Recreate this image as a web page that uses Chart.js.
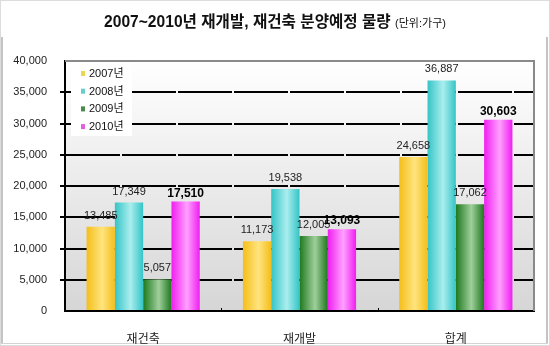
<!DOCTYPE html>
<html>
<head>
<meta charset="utf-8">
<script src="https://cdn.jsdelivr.net/npm/chart.js@4"></script>
<style>
  body { margin: 0; background: #fff; }
  #wrap { position: relative; width: 550px; height: 346px; }
  #title {
    position: absolute; left: 0; top: 9px; width: 550px; text-align: center;
    font-family: "Liberation Sans", "Noto Sans CJK KR", sans-serif;
    font-size: 15.6px; font-weight: bold; color: #111; white-space: nowrap;
  }
  #title span { font-size: 11px; font-weight: normal; }
</style>
</head>
<body>
<div id="wrap">
  <canvas id="myChart" width="550" height="346"></canvas>
  <div id="title">2007~2010년 재개발, 재건축 분양예정 물량 <span>(단위:가구)</span></div>
</div>
<script>
// data
let categories = ['재건축', '재개발', '합계']
let years = ['2007년', '2008년', '2009년', '2010년']
let values2007 = [13485, 11173, 24658]
let values2008 = [17349, 19538, 36887]
let values2009 = [5057, 12005, 17062]
let values2010 = [17510, 13093, 30603]
let yTicks = [0, 5000, 10000, 15000, 20000, 25000, 30000, 35000, 40000]

// [edge, center] colours for each year
let barColors = [
    ['#f5be1a', '#ffe47e'],
    ['#35c4c6', '#aaeeee'],
    ['#1d781d', '#a0cf9c'],
    ['#f01ef0', '#ffa0ff']
]
let legendColors = ['#e8d850', '#66cccc', '#4a8a4a', '#e060e0']
let catPct = 0.724
let font = '"Liberation Sans", "Noto Sans CJK KR", sans-serif'

function barGradient(context) {
    let chart = context.chart
    let xs = chart.scales.x
    if (!xs || !chart.chartArea) return barColors[context.datasetIndex][0]
    let catW = (chart.chartArea.right - chart.chartArea.left) / categories.length * catPct
    let barW = catW / years.length
    let center = xs.getPixelForValue(context.dataIndex)
    let left = center - catW / 2 + context.datasetIndex * barW
    let g = chart.ctx.createLinearGradient(left, 0, left + barW, 0)
    let c = barColors[context.datasetIndex]
    g.addColorStop(0, c[0])
    g.addColorStop(0.55, c[1])
    g.addColorStop(1, c[0])
    return g
}

let framePlugin = {
    id: 'frame',
    beforeDraw(chart) {
        let ctx = chart.ctx
        let a = chart.chartArea
        ctx.save()
        // outer borders
        ctx.strokeStyle = '#dcdcdc'
        ctx.lineWidth = 1
        ctx.strokeRect(0.5, 0.5, 549, 345)
        ctx.fillStyle = '#c4c4c4'
        ctx.fillRect(1, 37, 2, 306)
        ctx.fillRect(546, 37, 2, 306)
        ctx.fillStyle = '#d4d4d4'
        ctx.fillRect(1, 343, 547, 1)
        // plot background
        let g = ctx.createLinearGradient(0, a.top, 0, a.bottom)
        g.addColorStop(0, '#ffffff')
        g.addColorStop(1, '#d6d6d6')
        ctx.fillStyle = g
        ctx.fillRect(a.left, a.top, a.right - a.left, a.bottom - a.top)
        ctx.restore()
    },
    afterDraw(chart) {
        let ctx = chart.ctx
        let a = chart.chartArea
        ctx.save()
        // top / right gray border
        ctx.strokeStyle = '#8a8a8a'
        ctx.lineWidth = 2
        ctx.beginPath()
        ctx.moveTo(a.left, a.top)
        ctx.lineTo(a.right, a.top)
        ctx.lineTo(a.right, a.bottom)
        ctx.stroke()
        // small ticks on the x axis between categories
        ctx.strokeStyle = '#000'
        ctx.lineWidth = 1
        let step = (a.right - a.left) / categories.length
        for (let i = 1; i < categories.length; i++) {
            let x = Math.round(a.left + step * i) + 0.5
            ctx.beginPath()
            ctx.moveTo(x, a.bottom)
            ctx.lineTo(x, a.bottom - 3)
            ctx.stroke()
        }
        // legend inside plot
        ctx.fillStyle = '#ffffff'
        ctx.fillRect(71, 63, 61, 73)
        ctx.font = '11px ' + font
        ctx.textBaseline = 'middle'
        ctx.textAlign = 'left'
        years.forEach(function(y, i) {
            let cy = 74 + i * 17.7
            ctx.fillStyle = legendColors[i]
            ctx.fillRect(81, cy - 3, 4, 5)
            ctx.fillStyle = '#111'
            ctx.fillText(y, 89, cy)
        })
        ctx.restore()
    },
    afterDatasetsDraw(chart) {
        let ctx = chart.ctx
        ctx.save()
        ctx.textAlign = 'center'
        ctx.textBaseline = 'alphabetic'
        chart.data.datasets.forEach(function(ds, i) {
            let meta = chart.getDatasetMeta(i)
            meta.data.forEach(function(bar, j) {
                let bold = i === 3
                ctx.font = (bold ? 'bold 12px ' : '11px ') + font
                ctx.fillStyle = bold ? '#000' : '#222'
                ctx.fillText(ds.data[j].toLocaleString('en-US'), bar.x, bar.y - (bold ? 5 : 8))
            })
        })
        ctx.restore()
    }
}

let ctx = document.getElementById('myChart').getContext('2d')
let chart = new Chart(ctx, {
    type: 'bar',
    data: {
        labels: categories,
        datasets: [values2007, values2008, values2009, values2010].map(function(v, i) {
            return {
                label: years[i],
                data: v,
                backgroundColor: barGradient,
                borderWidth: 0,
                categoryPercentage: catPct,
                barPercentage: 1
            }
        })
    },
    options: {
        responsive: false,
        animation: false,
        layout: { padding: { left: 0, top: 61, right: 16, bottom: 0 } },
        plugins: {
            legend: { display: false },
            tooltip: { enabled: false }
        },
        scales: {
            x: {
                grid: { display: false },
                border: { display: true, color: '#000', width: 2 },
                ticks: { color: '#222', font: { family: font, size: 12 }, padding: 13 },
                afterFit: function(s) { s.height = 35 }
            },
            y: {
                min: 0,
                max: 40000,
                afterBuildTicks: function(s) { s.ticks = yTicks.map(function(v) { return { value: v } }) },
                ticks: {
                    color: '#222',
                    font: { family: font, size: 11 },
                    padding: 13,
                    callback: function(v) { return v.toLocaleString('en-US') }
                },
                grid: {
                    color: function(c) { return (c.tick && (c.tick.value === 0 || c.tick.value === 40000)) ? 'rgba(0,0,0,0)' : '#000' },
                    lineWidth: 2,
                    tickLength: 5,
                    tickColor: function(c) { return (c.tick && (c.tick.value === 0 || c.tick.value === 40000)) ? 'rgba(0,0,0,0)' : '#000' }
                },
                border: { display: true, color: '#000', width: 2, dash: [54, 2] },
                afterFit: function(s) { s.width = 65 }
            }
        }
    },
    plugins: [framePlugin]
})
</script>
</body>
</html>
